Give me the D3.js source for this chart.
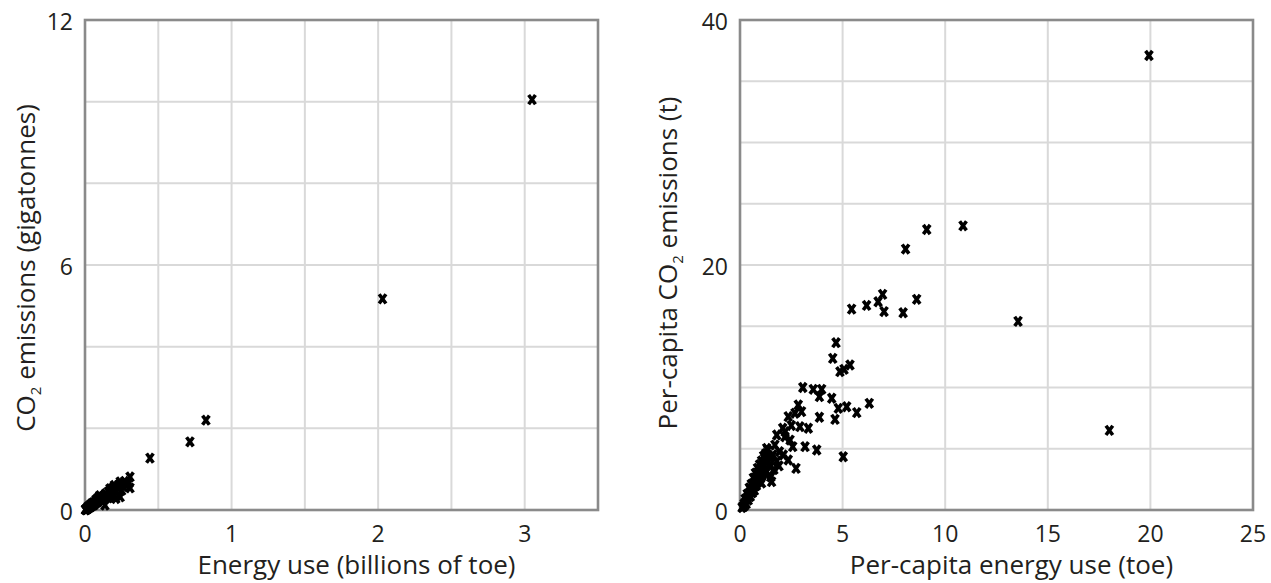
<!DOCTYPE html>
<html>
<head>
<meta charset="utf-8">
<script src="https://cdn.jsdelivr.net/npm/d3@7"></script>
<style>
  body { margin: 0; background: #fff; }
  text { font-family: "Open Sans", sans-serif; fill: #231f20; }
</style>
</head>
<body>
<svg id="chart" width="1271" height="583"></svg>
<script>
// total energy use (billions of toe) vs CO2 emissions (gigatonnes)
var totalEnergy = [3.05, 2.03, 0.825, 0.716, 0.443,
    0.307, 0.30, 0.307, 0.28, 0.26, 0.24, 0.24, 0.22, 0.20, 0.19, 0.17, 0.16, 0.15, 0.14, 0.13,
    0.12, 0.11, 0.10, 0.09, 0.08, 0.07, 0.065, 0.06, 0.05, 0.045, 0.04, 0.035, 0.03, 0.025, 0.02,
    0.018, 0.015, 0.012, 0.01, 0.008, 0.006, 0.005, 0.003, 0.136, 0.12, 0.18, 0.21, 0.25, 0.23,
    0.27, 0.10, 0.09, 0.075, 0.055, 0.04, 0.03, 0.02, 0.14, 0.16, 0.195, 0.21];
var totalCO2 = [10.05, 5.17, 2.2, 1.67, 1.27,
    0.81, 0.66, 0.54, 0.62, 0.58, 0.69, 0.32, 0.55, 0.60, 0.54, 0.52, 0.45, 0.36, 0.40, 0.30,
    0.33, 0.28, 0.25, 0.22, 0.18, 0.20, 0.15, 0.12, 0.13, 0.10, 0.08, 0.09, 0.06, 0.07, 0.05,
    0.03, 0.04, 0.02, 0.03, 0.01, 0.02, 0.01, 0.005, 0.12, 0.20, 0.38, 0.45, 0.48, 0.62,
    0.70, 0.35, 0.30, 0.25, 0.18, 0.14, 0.10, 0.08, 0.28, 0.30, 0.33, 0.28];

// per-capita energy use (toe) vs per-capita CO2 emissions (t)
var capitaEnergy = [19.93, 9.1, 8.07, 10.87, 13.55, 8.61, 7.95, 6.95, 6.73, 7.02, 6.17, 5.44, 18.0,
    4.68, 4.52, 4.87, 5.07, 5.36, 3.06, 3.57, 3.98, 3.87, 4.47, 4.79, 5.2, 5.69, 6.3, 4.63, 5.03,
    3.87, 3.74, 3.17, 3.33, 2.92, 2.84, 2.68, 3.0, 2.35, 2.08, 1.79, 2.19, 2.44, 2.57, 1.3, 1.54,
    2.11, 2.35, 2.73, 1.92, 1.46, 1.54,
    0.1, 0.15, 0.2, 0.25, 0.3, 0.35, 0.4, 0.45, 0.5, 0.55, 0.6, 0.65, 0.7, 0.75, 0.8, 0.85, 0.9,
    0.95, 1.0, 1.05, 1.1, 1.15, 1.2, 1.25, 1.3, 1.35, 1.4, 1.45, 0.3, 0.4, 0.5, 0.6, 0.7, 0.8,
    0.9, 1.0, 1.1, 1.2, 0.2, 0.25, 0.35, 0.45, 0.55, 0.65, 0.75, 0.85, 0.95, 1.05, 1.15, 1.6,
    1.7, 1.65, 1.8, 1.5, 1.9, 2.2, 2.5, 1.25, 1.05];
var capitaCO2 = [37.1, 22.9, 21.3, 23.2, 15.4, 17.2, 16.1, 17.6, 17.0, 16.2, 16.7, 16.4, 6.5,
    13.66, 12.38, 11.29, 11.48, 11.84, 10.0, 9.85, 9.85, 9.25, 9.12, 8.3, 8.43, 7.95, 8.71, 7.4, 4.35,
    7.57, 4.9, 5.17, 6.67, 6.8, 8.57, 7.9, 8.03, 7.62, 6.67, 6.12, 5.98, 5.71, 5.17, 5.03, 4.35,
    4.49, 4.08, 3.4, 4.76, 3.54, 2.31,
    0.2, 0.3, 0.5, 0.6, 0.9, 1.0, 1.2, 1.4, 1.7, 1.5, 2.0, 2.2, 1.9, 2.5, 2.7, 2.4, 3.1,
    2.8, 3.4, 3.0, 3.8, 3.5, 4.2, 4.6, 3.9, 4.9, 4.4, 3.7, 0.5, 0.8, 1.1, 1.4, 1.6, 2.0,
    2.3, 2.6, 2.9, 3.2, 0.3, 0.9, 1.3, 1.8, 2.1, 2.6, 3.0, 3.4, 3.7, 4.0, 4.4, 4.5,
    5.3, 3.3, 4.0, 2.7, 3.6, 6.4, 6.9, 3.0, 2.2];

var leftXTicks = [0, 1, 2, 3];
var leftYTicks = [0, 6, 12];
var rightXTicks = [0, 5, 10, 15, 20, 25];
var rightYTicks = [0, 20, 40];

var svg = d3.select("#chart");

function drawPanel(opt) {
    var x = d3.scaleLinear().domain([0, opt.xMax]).range([opt.left, opt.right]);
    var y = d3.scaleLinear().domain([0, opt.yMax]).range([510, 20]);
    var g = svg.append("g");

    // grid
    g.selectAll(".gx").data(d3.range(opt.xStep, opt.xMax, opt.xStep)).enter()
        .append("line")
        .attr("x1", function(d) { return x(d); }).attr("x2", function(d) { return x(d); })
        .attr("y1", y(0)).attr("y2", y(opt.yMax))
        .attr("stroke", "#d9d9d9").attr("stroke-width", 2);
    g.selectAll(".gy").data(d3.range(opt.yStep, opt.yMax, opt.yStep)).enter()
        .append("line")
        .attr("y1", function(d) { return y(d); }).attr("y2", function(d) { return y(d); })
        .attr("x1", x(0)).attr("x2", x(opt.xMax))
        .attr("stroke", "#d9d9d9").attr("stroke-width", 2);

    // frame
    g.append("rect")
        .attr("x", x(0)).attr("y", y(opt.yMax))
        .attr("width", x(opt.xMax) - x(0)).attr("height", y(0) - y(opt.yMax))
        .attr("fill", "none").attr("stroke", "#8a8a8a").attr("stroke-width", 2.6);

    // tick labels
    g.selectAll(".tx").data(opt.xTicks).enter().append("text")
        .attr("x", function(d) { return x(d); }).attr("y", 533)
        .attr("text-anchor", "middle").attr("dominant-baseline", "central")
        .style("font-size", "23px")
        .text(function(d) { return d; });
    g.selectAll(".ty").data(opt.yTicks).enter().append("text")
        .attr("x", x(0) - 12).attr("y", function(d) { return y(d) + 1; })
        .attr("text-anchor", "end").attr("dominant-baseline", "central")
        .style("font-size", "23px")
        .text(function(d) { return d; });

    // axis titles
    g.append("text")
        .attr("x", (opt.left + opt.right) / 2 + 15).attr("y", 574)
        .attr("text-anchor", "middle")
        .style("font-size", "26px")
        .text(opt.xTitle);

    var yt = g.append("text")
        .attr("transform", "translate(" + opt.yTitleX + "," + opt.yTitleY + ") rotate(-90)")
        .attr("text-anchor", "middle")
        .style("font-size", "26px");
    yt.append("tspan").text(opt.yTitle[0]);
    yt.append("tspan").attr("dy", 6).style("font-size", "15px").text("2");
    yt.append("tspan").attr("dy", -6).text(opt.yTitle[1]);

    // markers
    g.selectAll(".pt").data(opt.xs).enter().append("path")
        .attr("transform", function(d, i) { return "translate(" + x(d) + "," + y(opt.ys[i]) + ")"; })
        .attr("d", "M-3.4,-4.6L3.4,4.6M3.4,-4.6L-3.4,4.6")
        .attr("stroke", "#000").attr("stroke-width", 3.6).attr("fill", "none");
}

drawPanel({
    left: 85, right: 598, xMax: 3.5, xStep: 0.5, yMax: 12, yStep: 2,
    xTicks: leftXTicks, yTicks: leftYTicks,
    xs: totalEnergy, ys: totalCO2,
    xTitle: "Energy use (billions of toe)",
    yTitle: ["CO", " emissions (gigatonnes)"],
    yTitleX: 35, yTitleY: 268
});

drawPanel({
    left: 740, right: 1253, xMax: 25, xStep: 5, yMax: 40, yStep: 5,
    xTicks: rightXTicks, yTicks: rightYTicks,
    xs: capitaEnergy, ys: capitaCO2,
    xTitle: "Per-capita energy use (toe)",
    yTitle: ["Per-capita CO", " emissions (t)"],
    yTitleX: 677, yTitleY: 263
});
</script>
</body>
</html>
